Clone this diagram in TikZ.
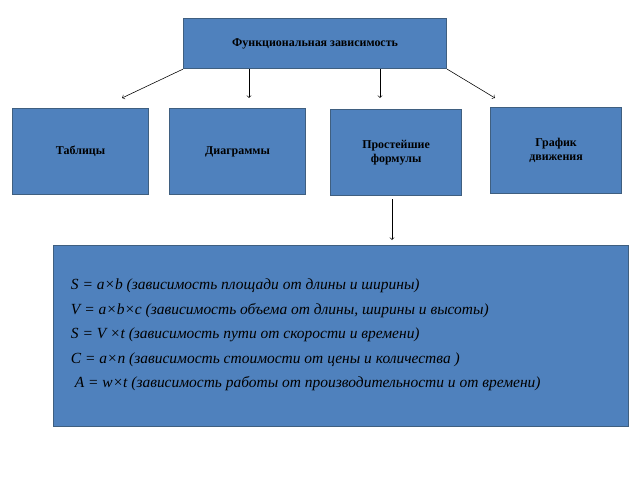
\documentclass[tikz,border=0pt]{standalone}
\usepackage{fontspec}
\setmainfont{Liberation Serif}
\usetikzlibrary{positioning}
\definecolor{boxblue}{HTML}{4F81BD}
\definecolor{boxline}{HTML}{3F5F80}
\tikzset{
  blk/.style={draw=boxline,fill=boxblue,line width=0.8pt,anchor=north west,
    align=center,font=\fontsize{8.5}{10}\selectfont\bfseries},
  arr/.style={->,line width=0.4pt}
}
\begin{document}
\begin{tikzpicture}[x=0.025cm,y=-0.025cm]
\useasboundingbox (0,0) rectangle (640,480);

\node(TOP)[blk,minimum width=263*0.025cm,minimum height=50*0.025cm] at (183,18) {Функциональная зависимость};
\node(TAB)[blk,minimum width=136*0.025cm,minimum height=86*0.025cm] at (12,108) {Таблицы};
\node(DIA)[blk,minimum width=136*0.025cm,minimum height=86*0.025cm] at (169,108) {Диаграммы};
\node(FOR)[blk,minimum width=131*0.025cm,minimum height=86*0.025cm] at (330,109) {Простейшие\\формулы};
\node(GRA)[blk,minimum width=131*0.025cm,minimum height=86*0.025cm] at (490,107) {График\\движения};
\node(ALL)[blk,minimum width=575*0.025cm,minimum height=181*0.025cm] at (53,245) {};

\node(LST)[anchor=west,align=left,font=\fontsize{11}{17.5}\selectfont\itshape] at (66,335) {%
S = a×b (зависимость площади от длины и ширины)\\
V = a×b×c (зависимость объема от длины, ширины и высоты)\\
S = V ×t (зависимость пути от скорости и времени)\\
C = a×n (зависимость стоимости от цены и количества )\\
\ A = w×t (зависимость работы от производительности и от времени)};

\coordinate (E1) at (122,98);
\coordinate (E2) at (249,98);
\coordinate (E3) at (380,98);
\coordinate (E4) at (495,98);
\coordinate (E5) at (392,240);

\draw[arr] (TOP.south west) -- (E1);
\draw[arr] (TOP.south west -| E2) -- (E2);
\draw[arr] (TOP.south west -| E3) -- (E3);
\draw[arr] (TOP.south east) -- (E4);
\draw[arr] ([yshift=-3*0.025cm]FOR.south -| E5) -- (E5);

\end{tikzpicture}
\end{document}
